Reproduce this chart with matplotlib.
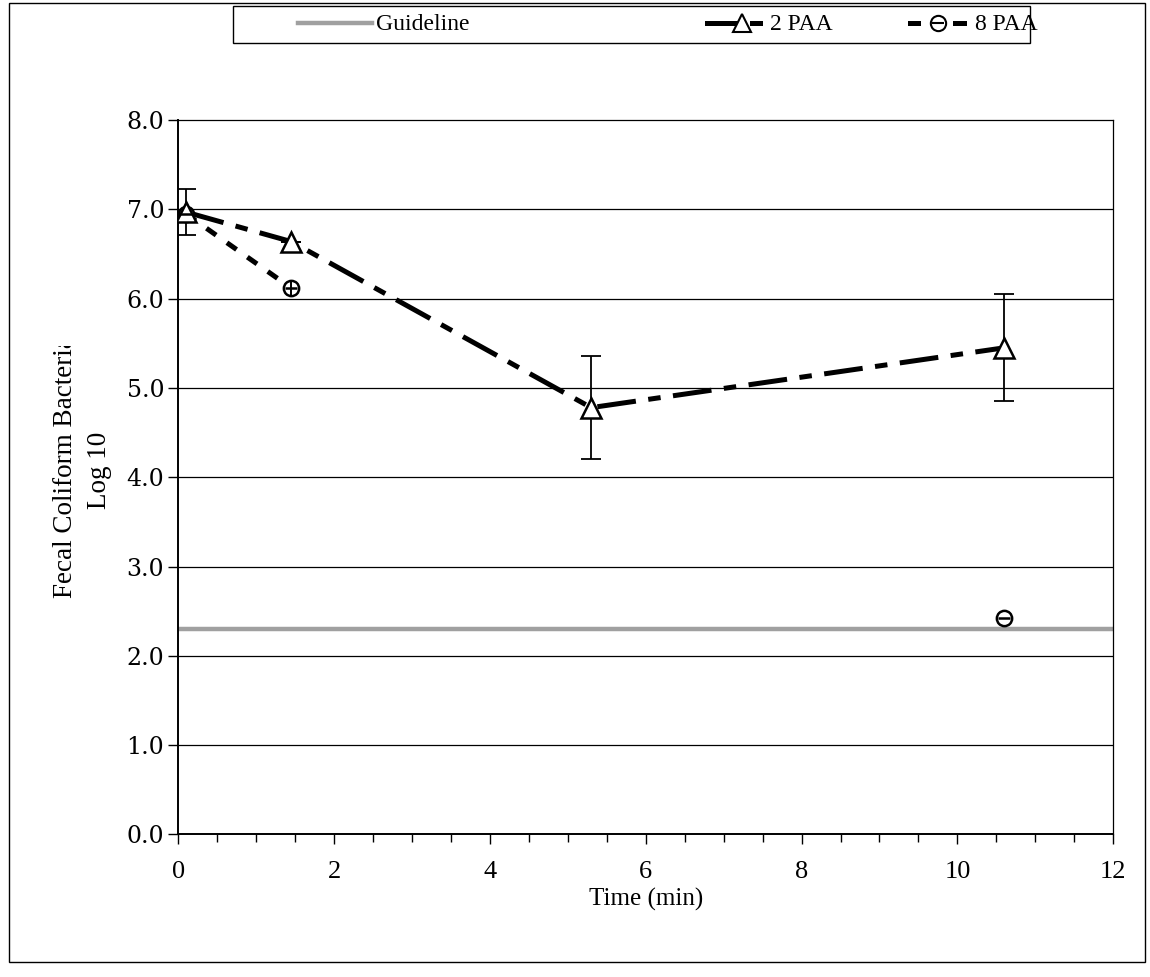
import matplotlib
matplotlib.use("Agg")
import matplotlib.pyplot as plt
from matplotlib import font_manager
from matplotlib.patches import Rectangle
from matplotlib.lines import Line2D
from matplotlib.transforms import Bbox

names = sorted({f.name for f in font_manager.fontManager.ttflist})
serif = None
for cand in ['Liberation Serif', 'Times New Roman', 'Tinos', 'Nimbus Roman', 'TeX Gyre Termes', 'FreeSerif']:
    if cand in names:
        serif = cand
        break
if serif is None:
    serif = 'DejaVu Serif'

plt.rcParams['font.family'] = [serif, 'DejaVu Serif']
plt.rcParams['lines.scale_dashes'] = False

# Data
time_2paa = [0.1, 1.45, 5.3, 10.6]
fc_2paa = [6.97, 6.64, 4.78, 5.45]
err_2paa = [0.26, 0.0, 0.58, 0.60]

time_8paa_line = [0.1, 1.45]
fc_8paa_line = [6.95, 6.12]
time_8paa_pts = [0.1, 1.45, 10.6]
fc_8paa_pts = [6.95, 6.12, 2.42]
err_8paa = [0.0, 0.09, 0.0]

guideline_x = [0, 12]
guideline_y = [2.3, 2.3]

xticks = [0, 2, 4, 6, 8, 10, 12]
yticks = [0, 1, 2, 3, 4, 5, 6, 7, 8]
ytick_labels = ["0.0", "1.0", "2.0", "3.0", "4.0", "5.0", "6.0", "7.0", "8.0"]
legend_labels = ['Guideline', '2 PAA', '8 PAA']

W, H = 1150, 977
fig = plt.figure(figsize=(W / 100, H / 100), dpi=100)
ax = fig.add_axes([0.155, 0.146, 0.813, 0.731])

GUIDE_COLOR = '#a0a0a0'

# gridlines
for y in yticks[1:-1]:
    ax.axhline(y, color='black', lw=0.9, zorder=1)

# guideline
ax.plot(guideline_x, guideline_y, color=GUIDE_COLOR, lw=3.2, zorder=2)

# 8 PAA
ax.plot(time_8paa_line, fc_8paa_line, color='black', lw=3.6, dashes=(8.5, 9.5), zorder=3)
ax.plot(time_8paa_pts, fc_8paa_pts, linestyle='none', marker='o', markersize=11,
        markerfacecolor='white', markeredgecolor='black', markeredgewidth=1.8, zorder=5)
ax.plot(time_8paa_pts, fc_8paa_pts, linestyle='none', marker='_', markersize=9,
        markeredgecolor='black', markeredgewidth=1.8, zorder=6)
ax.errorbar(time_8paa_pts, fc_8paa_pts, yerr=err_8paa, fmt='none', ecolor='black',
            elinewidth=1.4, capsize=0, zorder=7)

# 2 PAA
ax.plot(time_2paa, fc_2paa, color='black', lw=3.6, dashes=(28, 9, 9, 9), zorder=3)
ax.errorbar(time_2paa, fc_2paa, yerr=err_2paa, fmt='none', ecolor='black',
            elinewidth=1.3, capsize=7, capthick=1.3, zorder=4)
ax.plot(time_2paa, fc_2paa, linestyle='none', marker='^', markersize=14,
        markerfacecolor='white', markeredgecolor='black', markeredgewidth=1.8, zorder=5)

ax.set_xlim(0, 12)
ax.set_ylim(0, 8)
ax.set_xticks(xticks)
ax.set_xticks([i * 0.5 for i in range(25)], minor=True)
ax.set_yticks(yticks)
ax.set_yticklabels(ytick_labels, family='DejaVu Serif', fontsize=17)
ax.tick_params(axis='x', which='major', direction='out', length=7, width=1, labelsize=19, pad=12)
ax.tick_params(axis='x', which='minor', direction='out', length=6, width=1)
ax.tick_params(axis='y', which='major', direction='out', length=7, width=1, pad=3)
for s in ['top', 'right']:
    ax.spines[s].set_linewidth(0.9)
for s in ['left', 'bottom']:
    ax.spines[s].set_linewidth(1.4)

ax.set_xlabel('Time (min)', fontsize=18, labelpad=4)

# y label (clipped at the top like the original)
t1 = fig.text(66 / W, 1 - 467 / H, 'Fecal Coliform Bacteria', rotation=90, fontsize=19.5,
              ha='center', va='center')
t1.set_clip_box(Bbox.from_extents(0, 0, W, H - 346))
t1.set_clip_on(True)
fig.text(100 / W, 1 - 470 / H, 'Log 10', rotation=90, fontsize=19.5, ha='center', va='center')

# legend drawn by hand in figure pixel coordinates
def fx(px):
    return px / W

def fy(py):
    return 1 - py / H

tf = fig.transFigure
fig.patches.append(Rectangle((fx(233), fy(43)), fx(1030) - fx(233), fy(6) - fy(43),
                             transform=tf, fill=False, edgecolor='black', lw=1.0))
ly = fy(23)
fig.lines.append(Line2D([fx(298), fx(372)], [ly, ly], transform=tf, color=GUIDE_COLOR, lw=3.2))
fig.lines.append(Line2D([fx(707), fx(735)], [ly, ly], transform=tf, color='black', lw=3.6))
fig.lines.append(Line2D([fx(752), fx(760)], [ly, ly], transform=tf, color='black', lw=3.6))
fig.lines.append(Line2D([fx(742)], [ly], transform=tf, linestyle='none', marker='^', markersize=13,
                        markerfacecolor='white', markeredgecolor='black', markeredgewidth=1.5))
fig.lines.append(Line2D([fx(910), fx(918)], [ly, ly], transform=tf, color='black', lw=3.6))
fig.lines.append(Line2D([fx(955), fx(964)], [ly, ly], transform=tf, color='black', lw=3.6))
fig.lines.append(Line2D([fx(938)], [ly], transform=tf, linestyle='none', marker='o', markersize=11,
                        markerfacecolor='white', markeredgecolor='black', markeredgewidth=1.5))
fig.lines.append(Line2D([fx(938)], [ly], transform=tf, linestyle='none', marker='_', markersize=9,
                        markeredgecolor='black', markeredgewidth=1.5))
for xpos, lab in zip([376, 770, 975], legend_labels):
    fig.text(fx(xpos), fy(25), lab, fontsize=17, ha='left', va='center')

# outer chart border
fig.patches.append(Rectangle((0.008, 0.015), 0.988, 0.982, transform=tf,
                             fill=False, edgecolor='black', lw=1.0))

fig.savefig('out.png', dpi=100)
